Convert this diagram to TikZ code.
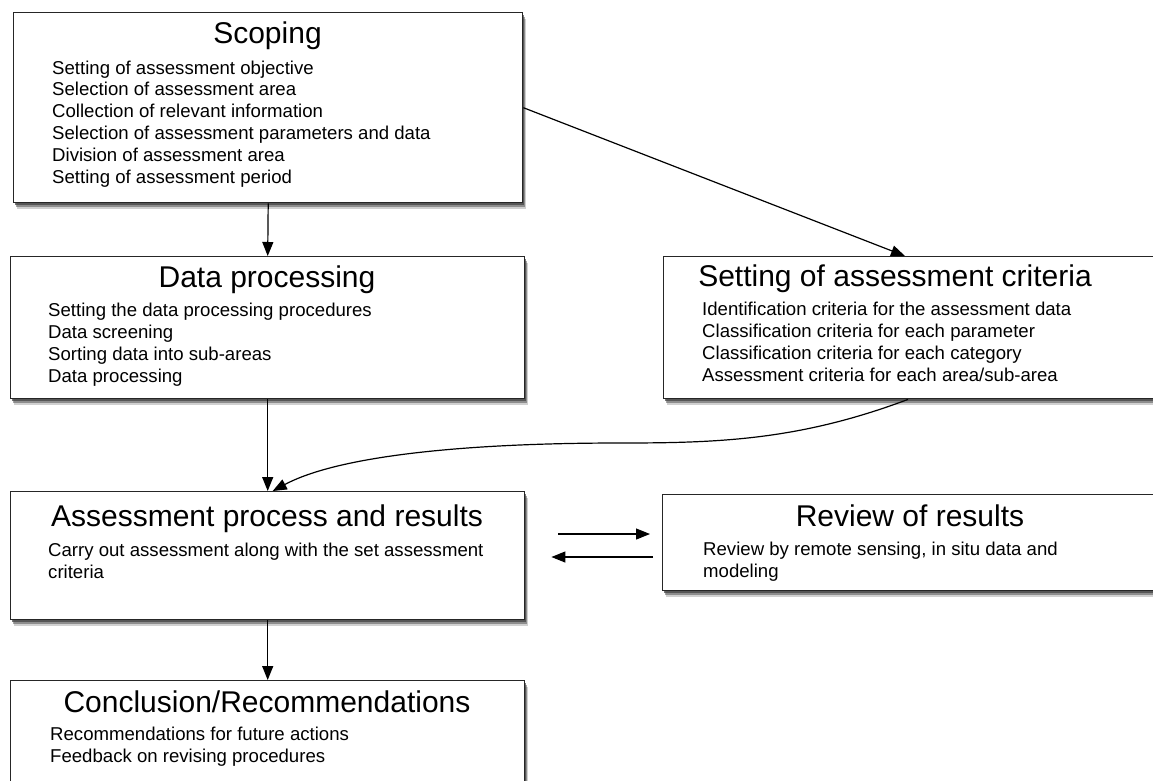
\documentclass[tikz,border=0pt]{standalone}
\usepackage{fontspec}
\setmainfont{Liberation Sans}
\usetikzlibrary{arrows.meta,shadows,calc}
\tikzset{
  box/.style={draw=black!85, line width=1.4pt, fill=white, anchor=north west, inner sep=0pt,
    drop shadow={shadow xshift=3pt, shadow yshift=-6pt, opacity=0.3, fill=black!60},
    drop shadow={shadow xshift=2pt, shadow yshift=-4pt, opacity=0.5, fill=black!70},
    drop shadow={shadow xshift=1pt, shadow yshift=-2.5pt, opacity=0.7, fill=black!75}},
  ttl/.style={anchor=base, inner sep=0pt, font=\fontsize{30}{34}\selectfont},
  bodytxt/.style={anchor=base west, inner sep=0pt, align=left, font=\fontsize{18.6}{21.8}\selectfont},
  conn/.style={line width=1.2pt, -{Triangle[length=14pt,width=11pt]}, shorten >=0pt},
}
\begin{document}
\begin{tikzpicture}[x=1pt,y=-1pt]
\useasboundingbox[fill=white] (0,0) rectangle (1153,780);
% boxes
\node[box, minimum width=509pt, minimum height=190pt] (scop) at (13,12) {};
\node[box, minimum width=514pt, minimum height=142pt] (dp) at (10,256) {};
\node[box, minimum width=520pt, minimum height=142pt] (crit) at (663,256) {};
\node[box, minimum width=514pt, minimum height=128pt] (ass) at (10,491) {};
\node[box, minimum width=520pt, minimum height=96pt] (rev) at (662,494) {};
\node[box, minimum width=514pt, minimum height=130pt] (conc) at (10,680) {};
% titles
\node[ttl] (scopT) at (267.5,43) {Scoping};
\node[ttl] (dpT) at (267,287) {Data processing};
\node[ttl] (critT) at (895,286) {Setting of assessment criteria};
\node[ttl] (assT) at (267,526) {Assessment process and results};
\node[ttl] (revT) at (910,526) {Review of results};
\node[ttl] (concT) at (267,712) {Conclusion/Recommendations};
% bodies (anchored at the baseline of the last line)
\node[bodytxt] (scopB) at (52,183) {Setting of assessment objective\\Selection of assessment area\\Collection of relevant information\\Selection of assessment parameters and data\\Division of assessment area\\Setting of assessment period};
\node[bodytxt] (dpB) at (48,382) {Setting the data processing procedures\\Data screening\\Sorting data into sub-areas\\Data processing};
\node[bodytxt] (critB) at (702,381) {Identification criteria for the assessment data\\Classification criteria for each parameter\\Classification criteria for each category\\Assessment criteria for each area/sub-area};
\node[bodytxt] (assB) at (48,578) {Carry out assessment along with the set assessment\\criteria};
\node[bodytxt] (revB) at (703,577) {Review by remote sensing, in situ data and\\modeling};
\node[bodytxt] (concB) at (50,762) {Recommendations for future actions\\Feedback on revising procedures};
% connectors
\draw[conn] (scop.south) -- (dp.north);
\draw[conn] (scop.east) -- ($(crit.north west)+(242,0)$);
\draw[conn] (dp.south) -- (ass.north);
\draw[conn] ($(crit.south west)+(245,0)$) .. controls (800,440) and (720,443) .. (620,443)
  .. controls (470,443) and (340,455) .. ($(ass.north)+(5,0)$);
\coordinate (r1) at ($(ass.north east)+(33,43)$);
\coordinate (r2) at ($(rev.north west)+(-12,40)$);
\coordinate (l1) at ($(rev.north west)+(-9,63)$);
\coordinate (l2) at ($(ass.north east)+(26,66)$);
\draw[conn] (r1) -- (r2);
\draw[conn] (l1) -- (l2);
\draw[conn] (ass.south) -- (conc.north);
\end{tikzpicture}
\end{document}
